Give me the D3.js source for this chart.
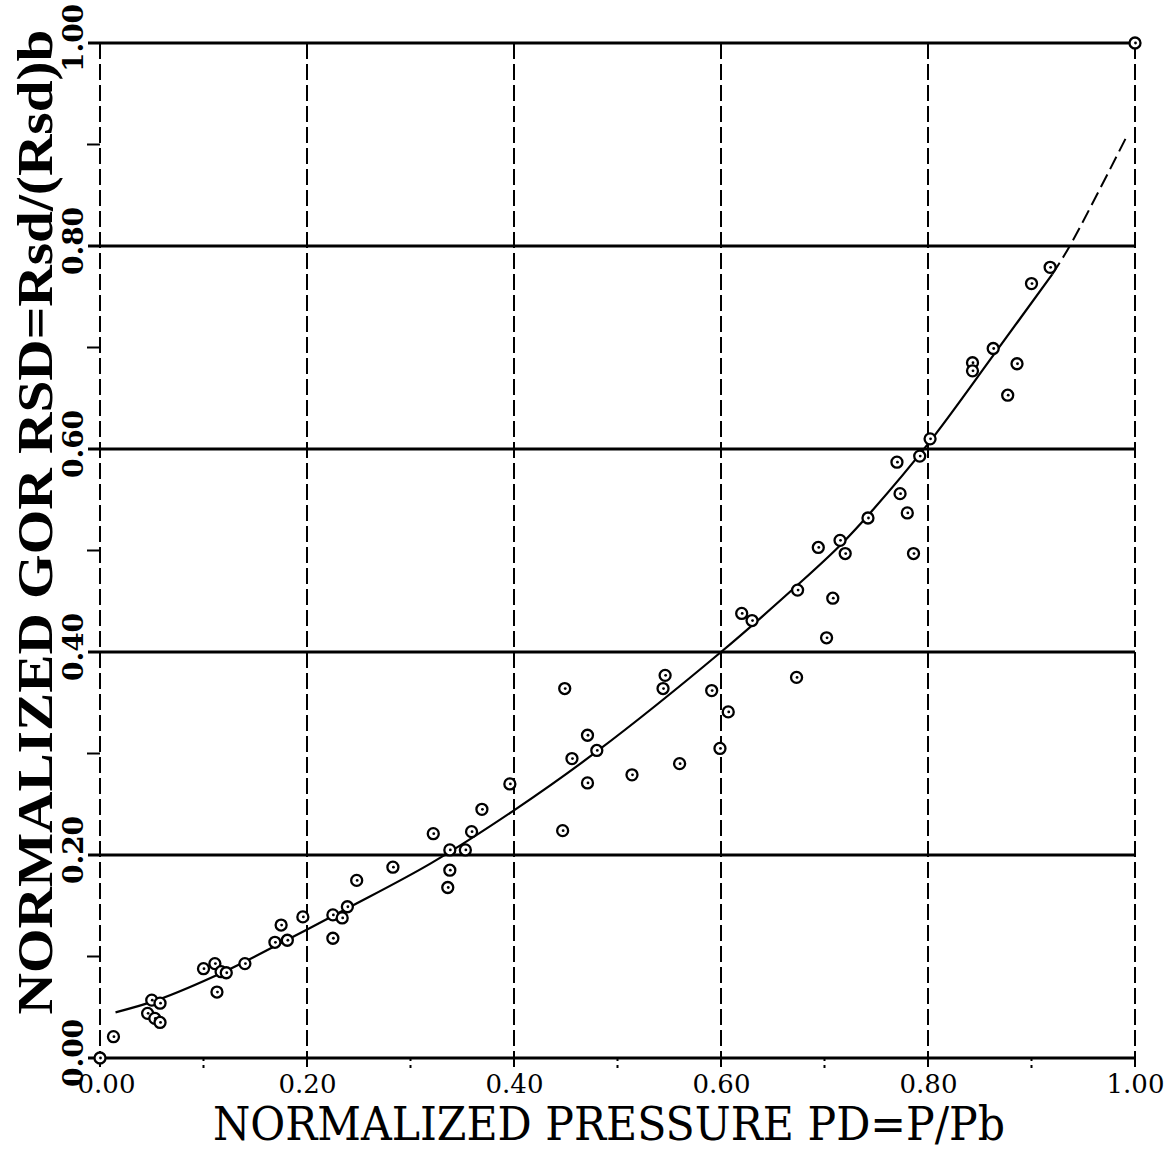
<!DOCTYPE html>
<html>
<head>
<meta charset="utf-8">
<script src="https://cdn.jsdelivr.net/npm/d3@7"></script>
<style>
  html, body { margin: 0; padding: 0; background: #fff; }
  svg { display: block; }
</style>
</head>
<body>
<div id="chart"></div>
<script>
// tick values and labels
var majorTicks = [0, 0.2, 0.4, 0.6, 0.8, 1.0];
var minorTicks = [0.1, 0.3, 0.5, 0.7, 0.9];
var tickLabels = ["0.00", "0.20", "0.40", "0.60", "0.80", "1.00"];

// measured points: normalized pressure PD and normalized GOR RSD
var pd = [0, 0.013,
  0.050, 0.058, 0.046, 0.053, 0.058,
  0.100, 0.111, 0.117, 0.122, 0.113, 0.140,
  0.169, 0.175, 0.181, 0.196,
  0.225, 0.234, 0.239, 0.225, 0.248, 0.283,
  0.322, 0.338, 0.353, 0.359, 0.369, 0.338, 0.336, 0.396,
  0.449, 0.447, 0.471, 0.456, 0.480, 0.471, 0.514,
  0.544, 0.546, 0.560, 0.591, 0.607, 0.599,
  0.673, 0.620, 0.630, 0.674, 0.702, 0.708, 0.694, 0.715, 0.720, 0.742,
  0.770, 0.773, 0.780, 0.786, 0.792, 0.802,
  0.843, 0.843, 0.863, 0.886, 0.877, 0.900, 0.918,
  1.0];
var rsd = [0, 0.021,
  0.057, 0.054, 0.044, 0.039, 0.035,
  0.088, 0.093, 0.085, 0.084, 0.065, 0.093,
  0.114, 0.131, 0.116, 0.139,
  0.141, 0.138, 0.149, 0.118, 0.175, 0.188,
  0.221, 0.205, 0.205, 0.223, 0.245, 0.185, 0.168, 0.270,
  0.364, 0.224, 0.318, 0.295, 0.303, 0.271, 0.279,
  0.364, 0.377, 0.290, 0.362, 0.341, 0.305,
  0.375, 0.438, 0.431, 0.461, 0.414, 0.453, 0.503, 0.510, 0.497, 0.532,
  0.587, 0.556, 0.537, 0.497, 0.593, 0.610,
  0.685, 0.677, 0.699, 0.684, 0.653, 0.763, 0.779,
  1.0];

// fitted curve
var curvePD  = [0.015, 0.055, 0.12, 0.18, 0.24, 0.32, 0.40, 0.48, 0.60, 0.675, 0.715, 0.745, 0.80, 0.865, 0.92, 0.937, 0.993];
var curveRSD = [0.045, 0.057, 0.085, 0.116, 0.148, 0.192, 0.244, 0.302, 0.40, 0.467, 0.505, 0.538, 0.605, 0.695, 0.772, 0.80, 0.91];
var dashedFrom = 0.92;

var W = 1174, H = 1155;
var x = d3.scaleLinear().domain([0, 1]).range([100, 1135]);
var y = d3.scaleLinear().domain([0, 1]).range([1058, 43]);

var svg = d3.select("#chart").append("svg")
    .attr("width", W)
    .attr("height", H);

// vertical grid (dashed), running a little below the axis
svg.append("g").attr("class", "grid-x").selectAll("line").data(majorTicks)
  .enter().append("line")
    .attr("x1", function (d) { return x(d); })
    .attr("x2", function (d) { return x(d); })
    .attr("y1", y(1))
    .attr("y2", y(0) + 14)
    .attr("stroke", "#000")
    .attr("stroke-width", 2)
    .attr("stroke-dasharray", "16,5");

// minor ticks under x axis
svg.append("g").selectAll("line").data(minorTicks)
  .enter().append("line")
    .attr("x1", function (d) { return x(d); })
    .attr("x2", function (d) { return x(d); })
    .attr("y1", y(0))
    .attr("y2", y(0) + 13)
    .attr("stroke", "#000")
    .attr("stroke-width", 2)
    .attr("stroke-dasharray", "3,4");

// horizontal grid (solid, heavy)
svg.append("g").attr("class", "grid-y").selectAll("line").data(majorTicks)
  .enter().append("line")
    .attr("x1", x(0) - 12)
    .attr("x2", x(1))
    .attr("y1", function (d) { return y(d); })
    .attr("y2", function (d) { return y(d); })
    .attr("stroke", "#000")
    .attr("stroke-width", 3);

// minor ticks left of y axis
svg.append("g").selectAll("line").data(minorTicks)
  .enter().append("line")
    .attr("x1", x(0) - 13)
    .attr("x2", x(0))
    .attr("y1", function (d) { return y(d); })
    .attr("y2", function (d) { return y(d); })
    .attr("stroke", "#000")
    .attr("stroke-width", 2);

// x tick labels
var xAxis = svg.append("g")
    .attr("transform", "translate(0," + (y(0) + 12) + ")")
    .call(d3.axisBottom(x).tickValues(majorTicks).tickSize(0)
      .tickFormat(function (d, i) { return tickLabels[i]; }));
xAxis.select(".domain").remove();
xAxis.selectAll("text")
    .attr("font-family", "DejaVu Serif")
    .attr("font-size", 26)
    .attr("fill", "#000")
    .attr("dy", "0.75em")
    .attr("dx", function (d) { return d === 0 ? 6 : 0; });

// y tick labels, rotated
svg.append("g").selectAll("text").data(majorTicks)
  .enter().append("text")
    .attr("transform", function (d) { return "translate(83," + (y(d) - 5) + ") rotate(-90)"; })
    .attr("text-anchor", "middle")
    .attr("font-family", "DejaVu Serif")
    .attr("font-weight", "bold")
    .attr("font-size", 28)
    .attr("fill", "#000")
    .text(function (d, i) { return tickLabels[i]; });

// fitted curve: solid, then dashed toward the end
var curveData = curvePD.map(function (v, i) { return [v, curveRSD[i]]; });
var line = d3.line()
    .x(function (d) { return x(d[0]); })
    .y(function (d) { return y(d[1]); })
    .curve(d3.curveCatmullRom.alpha(0.5));
svg.append("path")
    .datum(curveData.filter(function (d) { return d[0] <= dashedFrom; }))
    .attr("d", line)
    .attr("fill", "none")
    .attr("stroke", "#000")
    .attr("stroke-width", 2.2);
svg.append("path")
    .datum(curveData.filter(function (d) { return d[0] >= dashedFrom; }))
    .attr("d", line)
    .attr("fill", "none")
    .attr("stroke", "#000")
    .attr("stroke-width", 2)
    .attr("stroke-dasharray", "14,6");

// data points
var pts = pd.map(function (v, i) { return { pd: v, rsd: rsd[i] }; });
var marks = svg.append("g").attr("class", "points").selectAll("g").data(pts)
  .enter().append("g")
    .attr("transform", function (d) { return "translate(" + x(d.pd) + "," + y(d.rsd) + ")"; });
marks.append("circle")
    .attr("r", 5.5)
    .attr("fill", "#fff")
    .attr("stroke", "#000")
    .attr("stroke-width", 2.3);
marks.append("circle")
    .attr("r", 1.4)
    .attr("cx", 0.5)
    .attr("fill", "#000");

// axis titles
svg.append("text")
    .attr("x", 609)
    .attr("y", 1140)
    .attr("text-anchor", "middle")
    .attr("font-family", "DejaVu Serif")
    .attr("font-size", 46)
    .attr("textLength", 792)
    .attr("lengthAdjust", "spacingAndGlyphs")
    .attr("fill", "#000")
    .text("NORMALIZED PRESSURE PD=P/Pb");

svg.append("text")
    .attr("transform", "translate(52,522) rotate(-90)")
    .attr("text-anchor", "middle")
    .attr("font-family", "Liberation Serif")
    .attr("font-weight", "bold")
    .attr("font-size", 50)
    .attr("textLength", 985)
    .attr("lengthAdjust", "spacingAndGlyphs")
    .attr("fill", "#000")
    .text("NORMALIZED GOR RSD=Rsd/(Rsd)b");
</script>
</body>
</html>
